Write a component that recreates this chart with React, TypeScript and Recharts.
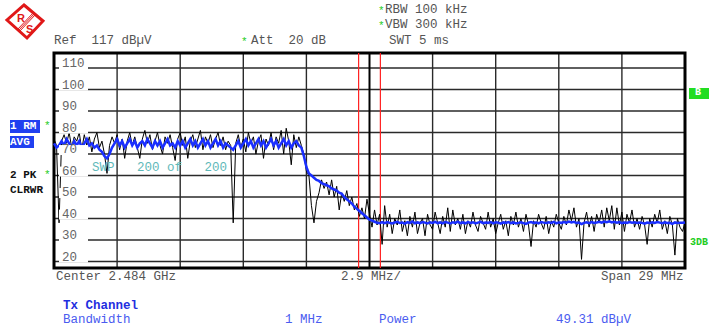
import { ComposedChart, Line, XAxis, YAxis, CartesianGrid, ReferenceLine, ReferenceArea } from 'recharts'

// sweep: 251 points over 29 MHz span centred on 2.484 GHz
const freqStart = 2469.5
const freqStep = 0.116
const freqTicks = [2469.5, 2472.4, 2475.3, 2478.2, 2481.1, 2484, 2486.9, 2489.8, 2492.7, 2495.6, 2498.5]
const levelTicks = [20, 30, 40, 50, 60, 70, 80, 90, 100, 110]
const channelEdges = [2483.5, 2484.5]

// trace 2: PK / CLRWR (black)
const pkTrace = [
    77, 74, 38, 76, 79, 75, 80, 73, 78, 76,
    80, 72, 79, 74, 78, 71, 77, 80, 73, 76,
    70, 61, 74, 78, 75, 79, 72, 77, 68, 76,
    80, 74, 78, 73, 68, 77, 81, 75, 79, 72,
    76, 80, 74, 70, 78, 75, 79, 73, 67, 77,
    80, 74, 78, 68, 76, 79, 73, 77, 81, 72,
    78, 75, 79, 73, 77, 80, 74, 78, 72, 76,
    74, 38, 75, 79, 73, 77, 71, 80, 75, 78,
    70, 76, 79, 68, 77, 74, 80, 72, 78, 75,
    81, 70, 82, 76, 65, 79, 73, 78, 74, 70,
    62, 60, 46, 38, 48, 52, 58, 54, 57, 51,
    58, 50, 55, 44, 52, 48, 53, 46, 50, 44,
    47, 41, 45, 40, 49, 42, 36, 44, 37, 42,
    28, 46, 36, 42, 33, 40, 37, 44, 34, 39,
    32, 41, 36, 43, 33, 38, 40, 32, 42, 37,
    35, 43, 38, 33, 41, 36, 45, 34, 44, 37,
    40, 35, 42, 33, 39, 36, 43, 37, 34, 41,
    38, 35, 43, 36, 40, 33, 38, 42, 35, 39,
    32, 41, 37, 43, 36, 40, 34, 42, 37, 27,
    39, 36, 42, 38, 35, 41, 33, 39, 36, 42,
    38, 35, 41, 37, 44, 39, 45, 36, 40, 21,
    38, 43, 36, 41, 34, 42, 38, 44, 36, 45,
    39, 46, 35, 45, 37, 43, 34, 42, 38, 44,
    36, 40, 35, 41, 37, 28, 40, 36, 42, 38,
    44, 35, 39, 33, 41, 37, 23, 40, 36, 34,
    38,
]

// trace 1: RM / AVG (blue)
const rmTrace = [
    75, 73, 74, 76, 74, 77, 75, 73, 76, 74,
    76, 73, 75, 77, 74, 75, 73, 74, 72, 71,
    69, 68, 70, 73, 75, 77, 74, 76, 73, 75,
    77, 74, 76, 73, 75, 76, 74, 77, 75, 73,
    76, 74, 76, 73, 75, 77, 74, 75, 73, 76,
    74, 76, 73, 75, 77, 74, 76, 73, 75, 77,
    74, 76, 73, 75, 77, 74, 76, 73, 75, 74,
    73, 72, 74, 76, 73, 75, 77, 74, 76, 73,
    75, 77, 74, 76, 73, 75, 77, 74, 76, 73,
    75, 77, 74, 76, 73, 75, 76, 74, 73, 69,
    64, 61, 60, 59, 58, 57.5, 56.5, 56, 55.5, 55,
    54, 53.5, 53, 52, 51.5, 50, 49, 48, 47, 45.5,
    44.5, 43.5, 42.5, 41.5, 40.5, 39.5, 39, 38.5, 38, 37.8,
    38.3, 37.9, 38.4, 38.0, 37.7, 38.2, 38.5, 37.9, 38.1, 37.6,
    38.3, 38.0, 38.6, 37.8, 38.2, 37.9, 38.4, 38.1, 37.7, 38.3,
    38.0, 38.5, 37.9, 38.2, 37.8, 38.4, 38.1, 37.7, 38.3, 38.0,
    38.6, 37.9, 38.2, 37.8, 38.4, 38.0, 38.3, 37.7, 38.1, 38.5,
    37.9, 38.2, 38.0, 38.4, 37.8, 38.3, 38.1, 37.6, 38.2, 38.0,
    38.4, 37.9, 38.2, 37.7, 38.0, 38.3, 37.9, 37.5, 38.1, 38.4,
    38.0, 38.2, 37.8, 38.4, 38.1, 37.9, 38.3, 38.0, 38.5, 37.8,
    38.2, 38.0, 38.4, 38.1, 38.6, 38.2, 38.5, 37.9, 38.1, 37.4,
    38.0, 38.3, 37.9, 38.4, 38.0, 38.2, 38.5, 38.1, 38.6, 38.3,
    38.7, 38.2, 38.5, 38.1, 38.4, 37.9, 38.2, 38.0, 38.4, 38.1,
    38.3, 37.9, 38.2, 38.0, 37.6, 38.1, 37.9, 38.3, 38.0, 38.4,
    38.1, 37.8, 38.2, 37.9, 38.0, 37.5, 38.2, 37.9, 38.1, 38.0,
    38.2,
]

const chartData = pkTrace.map((pk, i) => ({
    freq: +(freqStart + i * freqStep).toFixed(3),
    pk,
    rm: rmTrace[i],
}))

const mono = '"Liberation Mono", "DejaVu Sans Mono", monospace'

function LevelTick(props: any) {
    const { x, y, payload } = props
    return (
        <g>
            <rect x={x + 3} y={y - 9} width={29} height={10} fill="#fff" />
            <text x={x + 6} y={y - 1} fontFamily={mono} fontSize={12.5} fill="#666">
                {payload.value}
            </text>
        </g>
    )
}

function Txt({ x, y, children, color = '#555', bold = false, size = 12.5 }: any) {
    return (
        <div
            style={{
                position: 'absolute',
                left: x,
                top: y - 7,
                lineHeight: '14px',
                fontFamily: mono,
                fontSize: size,
                fontWeight: bold ? 'bold' : 'normal',
                color,
                whiteSpace: 'pre',
            }}
        >
            {children}
        </div>
    )
}

const green = '#22cc22'

export default function App() {
    return (
        <div style={{ position: 'absolute', left: 0, top: 0, width: 709, height: 332, background: '#fff' }}>
            <ComposedChart
                width={709}
                height={332}
                data={chartData}
                margin={{ top: 53, right: 24, bottom: 64, left: 54 }}
            >
                <CartesianGrid stroke="#2a2a2a" strokeWidth={1.4} />
                <XAxis dataKey="freq" type="number" domain={[2469.5, 2498.5]} ticks={freqTicks} interval={0} hide />
                <YAxis
                    type="number"
                    domain={[17, 117]}
                    ticks={levelTicks}
                    interval={0}
                    mirror
                    axisLine={false}
                    tickLine={false}
                    tickSize={0}
                    tick={<LevelTick />}
                    zIndex={-50}
                />
                <ReferenceLine x={2484} stroke="#000" strokeWidth={1.8} />
                {channelEdges.map((f) => (
                    <ReferenceLine key={f} x={f} stroke="#ff2020" strokeWidth={1.2} />
                ))}
                <Line
                    dataKey="pk"
                    stroke="#000"
                    strokeWidth={1}
                    dot={false}
                    isAnimationActive={false}
                />
                <Line
                    dataKey="rm"
                    stroke="#1a2fff"
                    strokeWidth={2.5}
                    dot={false}
                    isAnimationActive={false}
                />
                <ReferenceArea
                    x1={2469.5}
                    x2={2498.5}
                    y1={17}
                    y2={117}
                    fill="none"
                    fillOpacity={0}
                    stroke="#000"
                    strokeWidth={3}
                />
            </ComposedChart>

            {/* R&S logo */}
            <svg style={{ position: 'absolute', left: 0, top: 0 }} width={50} height={42}>
                <polygon points="24,5 43,21 27,38 7,20" fill="#fff" stroke="#e01818" strokeWidth={3} />
                <line x1={17} y1={30} x2={34} y2={12} stroke="#e01818" strokeWidth={1} />
                <line x1={18} y1={31} x2={35} y2={13} stroke="#e01818" strokeWidth={1} />
                <line x1={19} y1={32} x2={36} y2={14} stroke="#e01818" strokeWidth={1} />
                <text x={17} y={22} fontFamily="Liberation Sans" fontWeight="bold" fontSize={11} fill="#e01818">R</text>
                <text x={26} y={33} fontFamily="Liberation Sans" fontWeight="bold" fontSize={11} fill="#e01818">S</text>
            </svg>

            <Txt x={54} y={41}>Ref  117 dBµV</Txt>
            <Txt x={241} y={42} color={green} size={11}>*</Txt>
            <Txt x={251} y={41}>Att  20 dB</Txt>
            <Txt x={378} y={11} color={green} size={11}>*</Txt>
            <Txt x={385} y={10}>RBW 100 kHz</Txt>
            <Txt x={378} y={26} color={green} size={11}>*</Txt>
            <Txt x={385} y={25}>VBW 300 kHz</Txt>
            <Txt x={389} y={41}>SWT 5 ms</Txt>

            <Txt x={92} y={168} color="#5fb9b9">SWP   200 of   200</Txt>

            <div style={{ position: 'absolute', left: 10, top: 120, width: 30, height: 13, background: '#2040f0' }} />
            <Txt x={10} y={126} color="#fff" bold size={11}>1 RM</Txt>
            <div style={{ position: 'absolute', left: 10, top: 136, width: 24, height: 12, background: '#2040f0' }} />
            <Txt x={10} y={142} color="#fff" bold size={11}>AVG</Txt>
            <Txt x={44} y={126} color={green} size={11}>*</Txt>
            <Txt x={10} y={175} color="#111" bold size={11}>2 PK</Txt>
            <Txt x={44} y={175} color={green} size={11}>*</Txt>
            <Txt x={10} y={190} color="#111" bold size={11}>CLRWR</Txt>

            <div style={{ position: 'absolute', left: 689, top: 88, width: 20, height: 11, background: '#22dd22' }} />
            <Txt x={695} y={93} color="#fff" bold size={10}>B</Txt>
            <Txt x={690} y={243} color={green} bold size={10}>3DB</Txt>

            <Txt x={56} y={277}>Center 2.484 GHz</Txt>
            <Txt x={341} y={277}>2.9 MHz/</Txt>
            <Txt x={601} y={277}>Span 29 MHz</Txt>

            <Txt x={63} y={306} color="#1f2fe0" bold>Tx Channel</Txt>
            <Txt x={63} y={320} color="#4a5cf0">Bandwidth</Txt>
            <Txt x={285} y={320} color="#4a5cf0">1 MHz</Txt>
            <Txt x={379} y={320} color="#4a5cf0">Power</Txt>
            <Txt x={556} y={320} color="#4a5cf0">49.31 dBµV</Txt>
        </div>
    )
}
